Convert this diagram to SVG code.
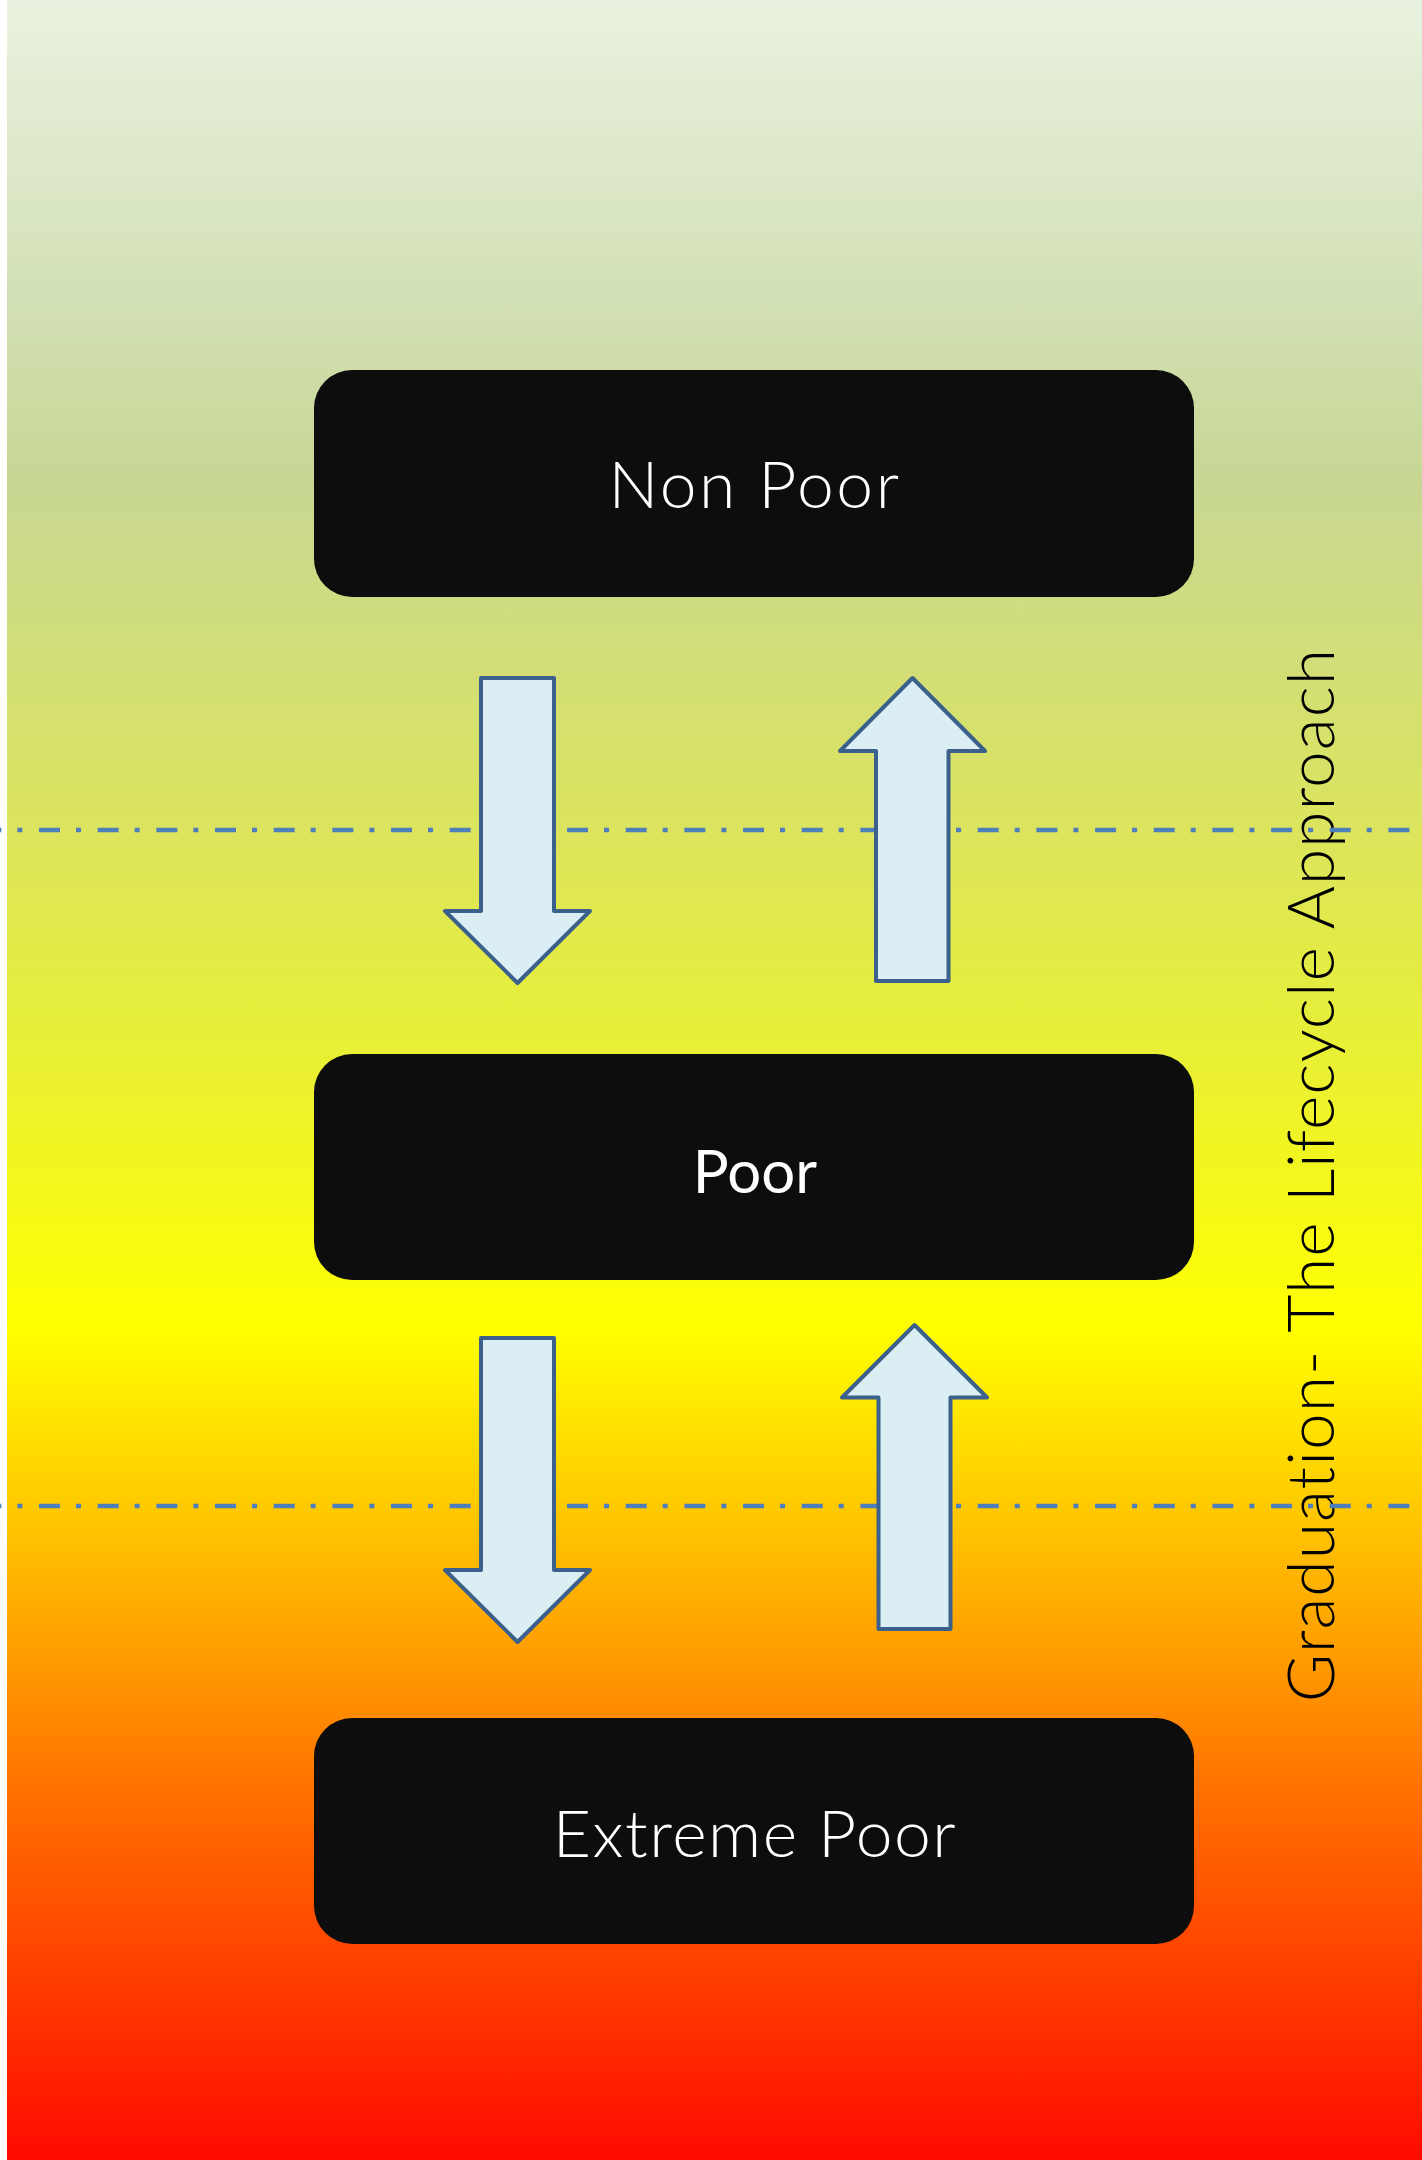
<svg xmlns="http://www.w3.org/2000/svg" width="1422" height="2160" viewBox="0 0 1422 2160">
<defs>
<linearGradient id="bg" x1="0" y1="0" x2="0" y2="2160" gradientUnits="userSpaceOnUse">
<stop offset="0" stop-color="#e9f2e0"/>
<stop offset="0.14" stop-color="#d2e0b5"/>
<stop offset="0.22" stop-color="#c7d794"/>
<stop offset="0.38" stop-color="#dbe45e"/>
<stop offset="0.47" stop-color="#e6ee3c"/>
<stop offset="0.615" stop-color="#ffff00"/>
<stop offset="0.70" stop-color="#ffc800"/>
<stop offset="0.77" stop-color="#ff9a00"/>
<stop offset="0.83" stop-color="#ff7000"/>
<stop offset="0.905" stop-color="#ff4400"/>
<stop offset="1" stop-color="#ff0a00"/>
</linearGradient>
<style>
.box{fill:#0d0d0d}
.lbl{font-family:Lato,"Liberation Sans",sans-serif;fill:#ffffff;text-anchor:middle}
.arrow{fill:#dbeef4;stroke:#3b608c;stroke-width:4;stroke-linejoin:round}
.dash{stroke:#4f7fbb;stroke-width:4.5;stroke-dasharray:21 16 5 16.67;stroke-dashoffset:19.67;fill:none}
.side{font-family:Lato,"Liberation Sans",sans-serif;fill:#000000;text-anchor:middle}
</style>
</defs>
<rect x="0" y="0" width="1422" height="2160" fill="#ffffff"/>
<rect x="7" y="0" width="1415" height="2160" fill="url(#bg)"/>
<text class="side" font-size="66" font-weight="300" letter-spacing="1" transform="translate(1334,1175) rotate(-90)">Graduation- The Lifecycle Approach</text>
<g id="connectors">
<line class="dash" x1="0" y1="830" x2="1422" y2="830"/>
<line class="dash" x1="0" y1="1506" x2="1422" y2="1506"/>
<polygon id="arrow-np-down" class="arrow" points="481,678 554,678 554,911 590,911 517.5,983 445,911 481,911"/>
<polygon id="arrow-p-up" class="arrow" points="912.5,678 985,751 948.5,751 948.5,981 876,981 876,751 840,751"/>
<polygon id="arrow-p-down" class="arrow" points="481,1338 554,1338 554,1570 590,1570 517.5,1642 445,1570 481,1570"/>
<polygon id="arrow-ep-up" class="arrow" points="914.5,1325 987,1397.5 950.5,1397.5 950.5,1629 878.5,1629 878.5,1397.5 842,1397.5"/>
</g>
<g id="node-non-poor">
<rect class="box" x="314" y="370" width="880" height="227" rx="38" ry="38"/>
<text class="lbl" x="755" y="508" font-size="66" font-weight="300" letter-spacing="2.5">Non Poor</text>
</g>
<g id="node-poor">
<rect class="box" x="314" y="1054" width="880" height="226" rx="38" ry="38"/>
<text class="lbl" x="755" y="1193" font-size="60">Poor</text>
</g>
<g id="node-extreme-poor">
<rect class="box" x="314" y="1718" width="880" height="226" rx="38" ry="38"/>
<text class="lbl" x="755" y="1857" font-size="66" font-weight="300" letter-spacing="1.5">Extreme Poor</text>
</g>
</svg>
